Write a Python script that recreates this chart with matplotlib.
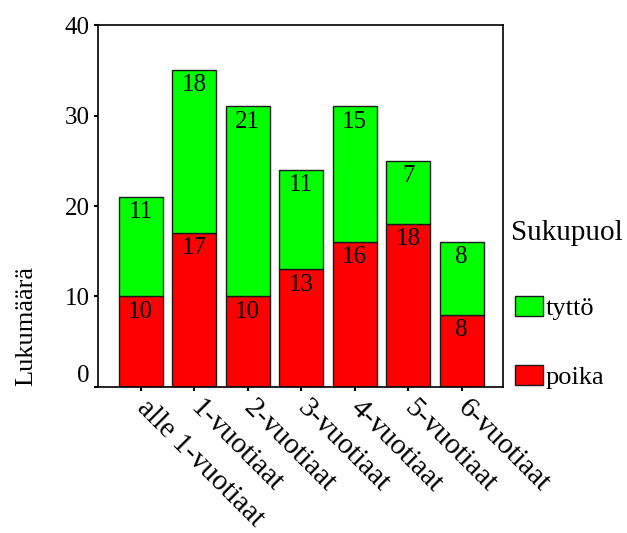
import matplotlib
matplotlib.use('Agg')
import matplotlib.pyplot as plt
import numpy as np
from matplotlib.patches import Patch

categories = ['alle 1-vuotiaat', '1-vuotiaat', '2-vuotiaat', '3-vuotiaat',
              '4-vuotiaat', '5-vuotiaat', '6-vuotiaat']
poika = [10, 17, 10, 13, 16, 18, 8]
tytto = [11, 18, 21, 11, 15, 7, 8]

plt.rcParams['font.family'] = ['Liberation Serif', 'DejaVu Serif']
fs = 18

fig = plt.figure(figsize=(6.27, 5.33), dpi=100)
ax = fig.add_axes([0.156, 0.274, 0.646, 0.679])

x = np.arange(len(categories))
w = 0.82
ax.bar(x, poika, w, color='#ff0000', edgecolor='#1a1a1a', linewidth=1.0)
ax.bar(x, tytto, w, bottom=poika, color='#00ff00', edgecolor='#1a1a1a', linewidth=1.0)

for i in range(len(x)):
    ax.annotate(str(poika[i]), (x[i], poika[i]), xytext=(0, -3), textcoords='offset points',
                ha='center', va='top', fontsize=fs)
    ax.annotate(str(tytto[i]), (x[i], poika[i] + tytto[i]), xytext=(0, -3), textcoords='offset points',
                ha='center', va='top', fontsize=fs)

ax.set_xlim(-0.8, 6.77)
ax.set_ylim(0, 40)
ax.set_yticks([0, 10, 20, 30, 40])
ax.set_xticks(x)
ax.set_xticklabels(categories, rotation=-45, ha='left', va='center', rotation_mode='anchor')
ax.tick_params(axis='both', direction='out', length=3, width=1.5)
ax.tick_params(axis='y', labelsize=fs, pad=3)
ax.tick_params(axis='x', labelsize=21, pad=9)
ax.get_yticklabels()[0].set_va('bottom')
for s in ax.spines.values():
    s.set_linewidth(1.2)

fig.text(0.042, 0.276, 'Lukumäärä', rotation=90, ha='center', va='bottom', fontsize=19)

handles = [Patch(facecolor='#00ff00', edgecolor='#1a1a1a'), Patch(facecolor='#ff0000', edgecolor='#1a1a1a')]
fig.text(0.815, 0.563, 'Sukupuol', ha='left', va='center', fontsize=21)
fig.legend(handles, ['tyttö', 'poika'], loc='upper left', bbox_to_anchor=(0.822, 0.445),
           frameon=False, fontsize=19, handlelength=1.06, handleheight=0.8,
           labelspacing=1.7, handletextpad=0.08, borderpad=0, borderaxespad=0)

fig.savefig('out.png', dpi=100)
